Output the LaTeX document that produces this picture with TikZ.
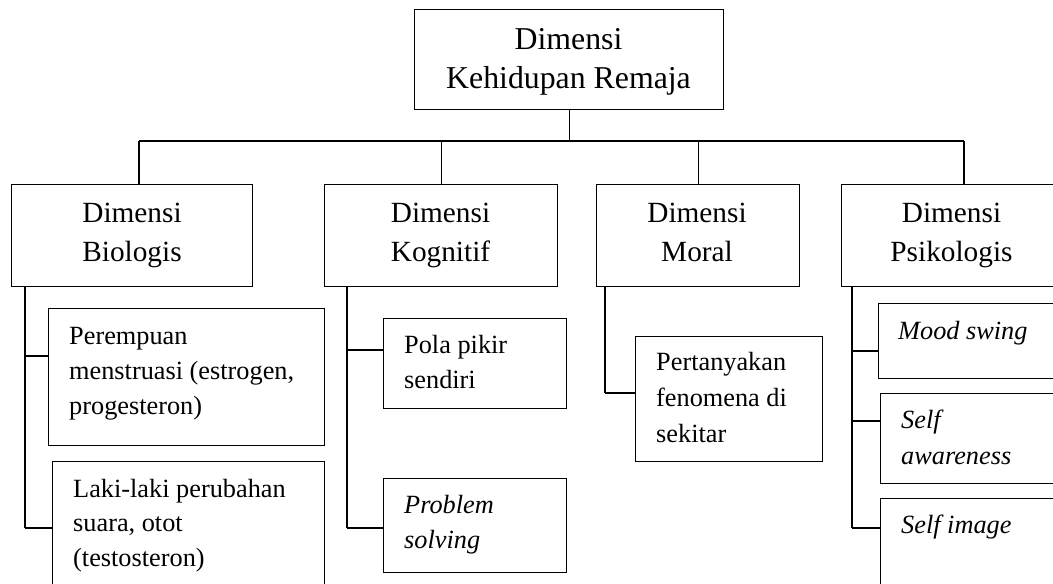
\documentclass[tikz,border=0pt]{standalone}
\usepackage{fontspec}
\setmainfont{Liberation Serif}
\begin{document}
\begin{tikzpicture}[x=1pt,y=-1pt,
  box/.style={draw, line width=1.2pt, rectangle, inner sep=0pt, anchor=north west},
  conn/.style={line width=1.2pt},
  bus/.style={line width=2pt},
  lvla/.style={font=\fontsize{31.8}{39}\selectfont, align=center, inner sep=0pt, anchor=base},
  lvlb/.style={font=\fontsize{29.3}{39}\selectfont, align=center, inner sep=0pt, anchor=base},
  leaf/.style={font=\fontsize{26.3}{35}\selectfont, align=left, inner sep=0pt, anchor=base west},
  leafit/.style={font=\fontsize{26.3}{36}\selectfont\itshape, align=left, inner sep=0pt, anchor=base west}]
\useasboundingbox (0,0) rectangle (1053,584);
\clip (0,0) rectangle (1053,584);
% boxes
\node[box, minimum width=309pt, minimum height=100pt] (top) at (414,9) {};
\node[box, minimum width=241pt, minimum height=102pt] (bio) at (11,184) {};
\node[box, minimum width=233pt, minimum height=102pt] (kog) at (324,184) {};
\node[box, minimum width=203pt, minimum height=102pt] (mor) at (596,184) {};
\node[box, minimum width=221pt, minimum height=102pt] (psi) at (841,184) {};
\node[box, minimum width=276pt, minimum height=137pt] (per) at (48,308) {};
\node[box, minimum width=272pt, minimum height=140pt] (lak) at (52,461) {};
\node[box, minimum width=183pt, minimum height=90pt] (pol) at (383,318) {};
\node[box, minimum width=183pt, minimum height=94pt] (pro) at (383,478) {};
\node[box, minimum width=187pt, minimum height=125pt] (pert) at (635,336) {};
\node[box, minimum width=200pt, minimum height=75pt] (moo) at (878,303) {};
\node[box, minimum width=200pt, minimum height=90pt] (saw) at (880,393) {};
\node[box, minimum width=200pt, minimum height=110pt] (sim) at (880,498) {};
% texts (anchored at the baseline of the last line)
\node[lvla] (ttop) at (568.5,88) {Dimensi\\Kehidupan Remaja};
\node[lvlb] (tbio) at (132,261) {Dimensi\\Biologis};
\node[lvlb] (tkog) at (440.5,261) {Dimensi\\Kognitif};
\node[lvlb] (tmor) at (697,261) {Dimensi\\Moral};
\node[lvlb] (tpsi) at (951.5,261) {Dimensi\\Psikologis};
\node[leaf] (tper) at (69,414) {Perempuan\\menstruasi (estrogen,\\progesteron)};
\node[leaf, font=\fontsize{26.3}{34.5}\selectfont] (tlak) at (73,566) {Laki-laki perubahan\\suara, otot\\(testosteron)};
\node[leaf] (tpol) at (404,388) {Pola pikir\\sendiri};
\node[leafit, font=\fontsize{26.3}{35}\selectfont\itshape] (tpro) at (404,548) {Problem\\solving};
\node[leaf, font=\fontsize{26.3}{36}\selectfont] (tpert) at (656,442) {Pertanyakan\\fenomena di\\sekitar};
\node[leafit] (tmoo) at (898,339) {Mood swing};
\node[leafit] (tsaw) at (901,464) {Self\\awareness};
\node[leafit] (tsim) at (901,533) {Self image};
% top-level connectors
\coordinate (busL) at (139,141);
\coordinate (busR) at (964,141);
\draw[bus] (busL) -- (busR);
\draw[conn] (top.south) -- (top.south |- busL);
\draw[conn] (busL) -- (busL |- bio.north);
\draw[conn] (kog.north |- busL) -- (kog.north);
\draw[conn] (mor.north |- busL) -- (mor.north);
\draw[conn] (busR) -- (busR |- psi.north);
% spines
\coordinate (jB1) at (25,356);
\coordinate (jB2) at (25,528);
\draw[conn] (jB2 |- bio.south) -- (jB2);
\draw[conn] (jB1) -- (jB1 -| per.west);
\draw[conn] (jB2) -- (jB2 -| lak.west);
\coordinate (jK1) at (347,350);
\coordinate (jK2) at (347,528);
\draw[conn] (jK2 |- kog.south) -- (jK2);
\draw[conn] (jK1) -- (jK1 -| pol.west);
\draw[conn] (jK2) -- (jK2 -| pro.west);
\coordinate (jM) at (605,393);
\draw[conn] (jM |- mor.south) -- (jM);
\draw[conn] (jM) -- (jM -| pert.west);
\coordinate (jP1) at (852,351);
\coordinate (jP2) at (852,421);
\coordinate (jP3) at (852,528);
\draw[conn] (jP3 |- psi.south) -- (jP3);
\draw[conn] (jP1) -- (jP1 -| moo.west);
\draw[conn] (jP2) -- (jP2 -| saw.west);
\draw[conn] (jP3) -- (jP3 -| sim.west);
\end{tikzpicture}
\end{document}
